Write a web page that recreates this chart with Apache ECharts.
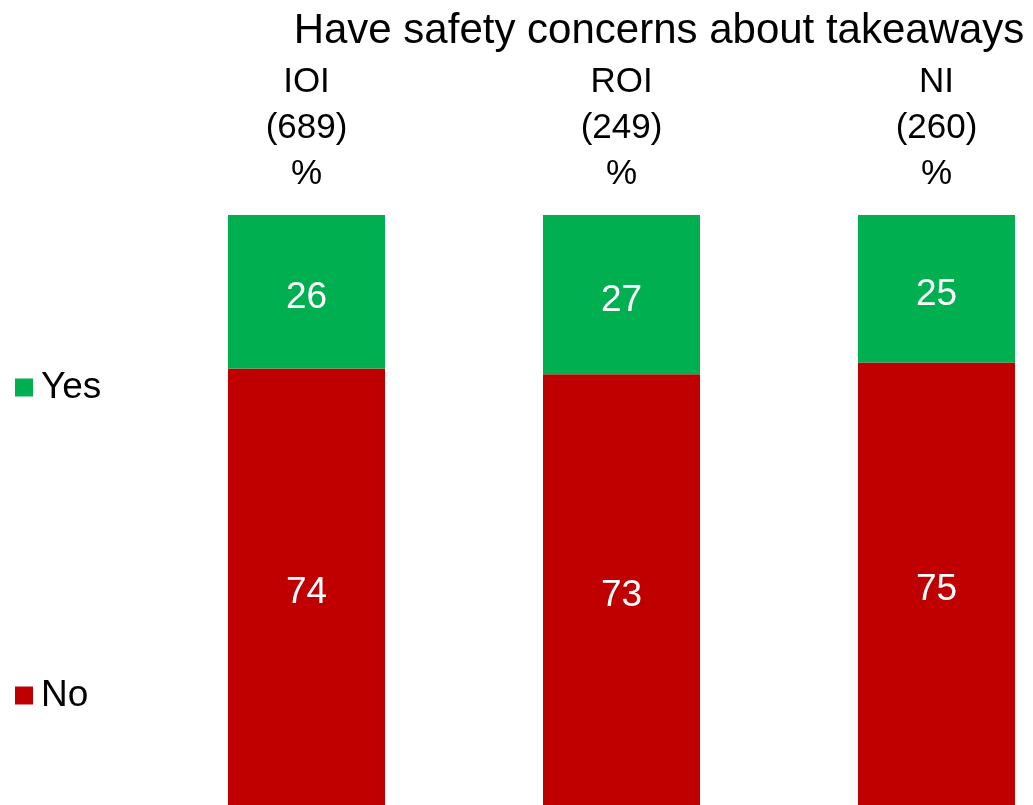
<!DOCTYPE html>
<html>
<head>
<meta charset="utf-8">
<script src="https://cdn.jsdelivr.net/npm/echarts@6/dist/echarts.min.js"></script>
<style>
  html, body { margin: 0; padding: 0; background: #fff; }
  #chart { width: 1033px; height: 805px; }
</style>
</head>
<body>
<div id="chart"></div>
<script>
var titleText = 'Have safety concerns about takeaways'
var categories = ['IOI', 'ROI', 'NI']
var bases = ['689', '249', '260']
var yesValues = [26, 27, 25]
var noValues = [74, 73, 75]

var FONT = 'Liberation Sans, Arial, sans-serif'

var chart = echarts.init(document.getElementById('chart'))
var option = {
  backgroundColor: '#fff',
  animation: false,
  title: {
    text: titleText,
    left: 654,
    textAlign: 'center',
    top: 5,
    textStyle: { color: '#000', fontSize: 42, fontWeight: 'normal', fontFamily: FONT }
  },
  legend: [
    {
      data: ['Yes'],
      orient: 'vertical',
      left: 10,
      top: 364,
      itemWidth: 18,
      itemHeight: 18,
      icon: 'rect',
      textStyle: { color: '#000', fontSize: 37, fontFamily: FONT, padding: [0, 0, 0, 3] }
    },
    {
      data: ['No'],
      orient: 'vertical',
      left: 10,
      top: 672,
      itemWidth: 18,
      itemHeight: 18,
      icon: 'rect',
      textStyle: { color: '#000', fontSize: 37, fontFamily: FONT, padding: [0, 0, 0, 3] }
    }
  ],
  grid: {
    left: 306.5,
    right: 96.5,
    top: 215,
    bottom: 0,
    containLabel: false
  },
  xAxis: {
    type: 'category',
    position: 'top',
    boundaryGap: false,
    data: categories,
    axisLine: { show: false },
    axisTick: { show: false },
    axisLabel: {
      margin: 18,
      color: '#000',
      fontSize: 35,
      lineHeight: 46,
      fontFamily: FONT,
      formatter: function (val, idx) {
        return val + '\n(' + bases[idx] + ')\n%'
      }
    }
  },
  yAxis: {
    type: 'value',
    min: 0,
    max: 100,
    show: false,
    splitLine: { show: false }
  },
  series: [
    {
      name: 'No',
      type: 'bar',
      stack: 'total',
      barWidth: 157,
      clip: false,
      data: noValues,
      itemStyle: { color: '#C00000' },
      label: {
        show: true,
        position: 'inside',
        offset: [0, 6],
        color: '#fff',
        fontSize: 37,
        fontFamily: FONT
      }
    },
    {
      name: 'Yes',
      type: 'bar',
      stack: 'total',
      barWidth: 157,
      clip: false,
      data: yesValues,
      itemStyle: { color: '#00B050' },
      label: {
        show: true,
        position: 'inside',
        offset: [0, 6],
        color: '#fff',
        fontSize: 37,
        fontFamily: FONT
      }
    }
  ]
}
chart.setOption(option)
window.addEventListener('resize', () => chart.resize(), false)
</script>
</body>
</html>
